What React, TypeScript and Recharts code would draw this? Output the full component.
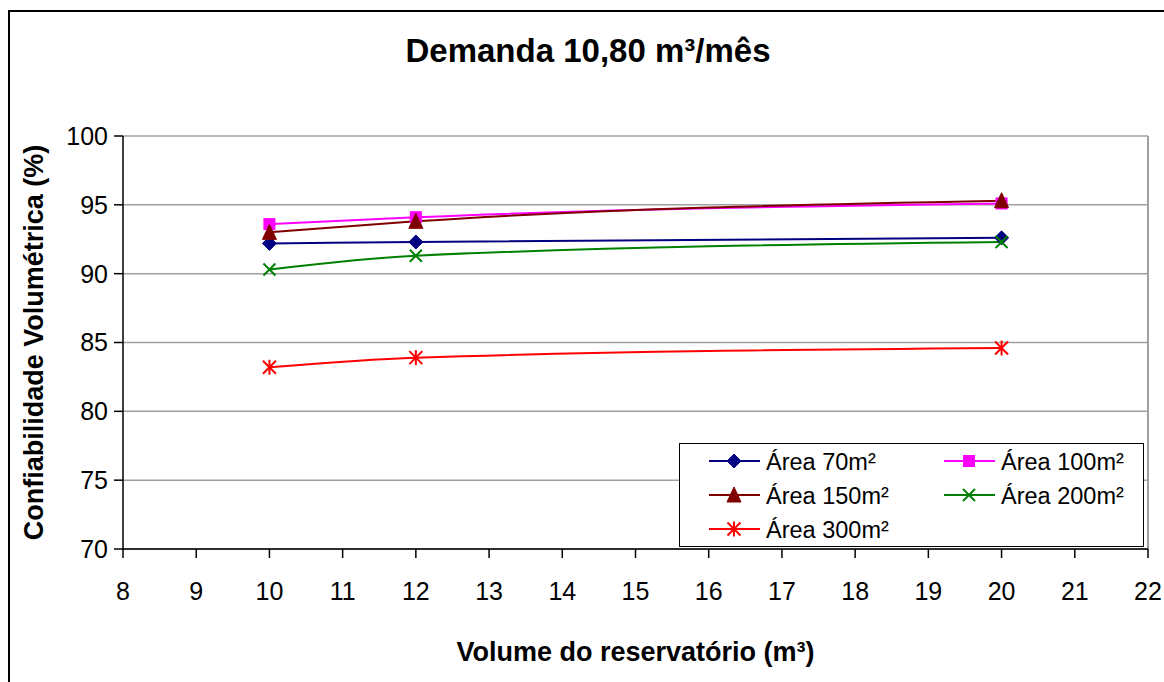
import React from "react";
import { LineChart, Line, XAxis, YAxis, CartesianGrid, Legend, ReferenceLine, Label } from "recharts";

const volumes = [10, 12, 20];
const area70 = [92.2, 92.3, 92.6];
const area100 = [93.6, 94.1, 95.1];
const area150 = [93.0, 93.8, 95.3];
const area200 = [90.3, 91.3, 92.3];
const area300 = [83.2, 83.9, 84.6];
const xTicks = [8, 9, 10, 11, 12, 13, 14, 15, 16, 17, 18, 19, 20, 21, 22];
const yTicks = [70, 75, 80, 85, 90, 95, 100];

const seriesNames = ["Área 70m²", "Área 100m²", "Área 150m²", "Área 200m²", "Área 300m²"];
const seriesKeys = ["a70", "a100", "a150", "a200", "a300"];
const seriesColors = ["#000080", "#FF00FF", "#800000", "#008000", "#FF0000"];
const seriesMarkers = ["diamond", "square", "triangle", "x", "star"];

const data = volumes.map((v, i) => ({
  v,
  a70: area70[i],
  a100: area100[i],
  a150: area150[i],
  a200: area200[i],
  a300: area300[i],
}));

const FONT = "'Liberation Sans', Arial, sans-serif";

function Marker({ kind, cx, cy, color }: { kind: string; cx: number; cy: number; color: string }) {
  if (kind === "diamond") {
    const r = 7;
    return <polygon points={`${cx},${cy - r} ${cx + r},${cy} ${cx},${cy + r} ${cx - r},${cy}`} fill={color} stroke={color} />;
  }
  if (kind === "square") {
    const r = 5.5;
    return <rect x={cx - r} y={cy - r} width={2 * r} height={2 * r} fill={color} stroke={color} />;
  }
  if (kind === "triangle") {
    const r = 7;
    return <polygon points={`${cx},${cy - r - 1} ${cx + r},${cy + r} ${cx - r},${cy + r}`} fill={color} stroke={color} />;
  }
  if (kind === "x") {
    const r = 6;
    return (
      <g stroke={color} strokeWidth={2}>
        <line x1={cx - r} y1={cy - r} x2={cx + r} y2={cy + r} />
        <line x1={cx - r} y1={cy + r} x2={cx + r} y2={cy - r} />
      </g>
    );
  }
  const r = 6.5;
  return (
    <g stroke={color} strokeWidth={2}>
      <line x1={cx - r} y1={cy - r} x2={cx + r} y2={cy + r} />
      <line x1={cx - r} y1={cy + r} x2={cx + r} y2={cy - r} />
      <line x1={cx} y1={cy - r - 1} x2={cx} y2={cy + r + 1} />
    </g>
  );
}

function makeDot(idx: number) {
  return (props: any) => {
    const { cx, cy, index } = props;
    if (cx == null || cy == null) return <g key={`d${idx}-${index}`} />;
    return (
      <g key={`d${idx}-${index}`}>
        <Marker kind={seriesMarkers[idx]} cx={cx} cy={cy} color={seriesColors[idx]} />
      </g>
    );
  };
}

function LegendBox() {
  const pos = [
    [0, 0],
    [1, 0],
    [0, 1],
    [1, 1],
    [0, 2],
  ];
  return (
    <svg width={465} height={104} style={{ display: "block" }}>
      <rect x={0.5} y={0.5} width={464} height={103} fill="#fff" stroke="#000" strokeWidth={1} />
      {seriesNames.map((name, i) => {
        const colX = pos[i][0] === 0 ? 30 : 265;
        const rowY = 18 + pos[i][1] * 34;
        return (
          <g key={name}>
            <line x1={colX} y1={rowY} x2={colX + 51} y2={rowY} stroke={seriesColors[i]} strokeWidth={2} />
            <Marker kind={seriesMarkers[i]} cx={colX + 25} cy={rowY} color={seriesColors[i]} />
            <text x={colX + 57} y={rowY + 8.5} fontSize={23.5} fontFamily={FONT} fill="#000">
              {name}
            </text>
          </g>
        );
      })}
    </svg>
  );
}

export default function App() {
  return (
    <div style={{ position: "absolute", left: 0, top: 0, width: 1164, height: 682, overflow: "hidden", background: "#fff" }}>
      <div
        style={{
          position: "absolute",
          left: 8,
          top: 10,
          width: 1300,
          height: 800,
          borderLeft: "2px solid #000",
          borderTop: "2px solid #000",
        }}
      />
      <div
        style={{
          position: "absolute",
          left: 8,
          width: 1160,
          top: 32,
          textAlign: "center",
          fontFamily: FONT,
          fontWeight: "bold",
          fontSize: 33,
          color: "#000",
        }}
      >
        Demanda 10,80 m³/mês
      </div>
      <div style={{ position: "absolute", left: 0, top: 0 }}>
        <LineChart width={1164} height={682} data={data} margin={{ top: 136, right: 16, bottom: 93, left: 53 }}>
          <CartesianGrid vertical={false} stroke="#a0a0a0" strokeWidth={1.5} />
          <ReferenceLine x={22} stroke="#a0a0a0" strokeWidth={2} />
          <XAxis
            dataKey="v"
            type="number"
            domain={[8, 22]}
            ticks={xTicks}
            interval={0}
            height={40}
            tickSize={9}
            tickMargin={24}
            axisLine={{ stroke: "#000", strokeWidth: 1.5 }}
            tickLine={{ stroke: "#000", strokeWidth: 1.5 }}
            tick={{ fill: "#000", fontSize: 25, fontFamily: FONT }}
          >
            <Label
              value="Volume do reservatório (m³)"
              position="bottom"
              offset={53}
              style={{ fontFamily: FONT, fontWeight: "bold", fontSize: 27, fill: "#000" }}
            />
          </XAxis>
          <YAxis
            type="number"
            domain={[70, 100]}
            ticks={yTicks}
            interval={0}
            width={70}
            tickSize={9}
            tickMargin={6}
            axisLine={{ stroke: "#000", strokeWidth: 1.5 }}
            tickLine={{ stroke: "#000", strokeWidth: 1.5 }}
            tick={{ fill: "#000", fontSize: 25, fontFamily: FONT }}
          >
            <Label
              value="Confiabilidade Volumétrica (%)"
              angle={-90}
              position="left"
              offset={20}
              style={{ textAnchor: "middle", fontFamily: FONT, fontWeight: "bold", fontSize: 27, fill: "#000" }}
            />
          </YAxis>
          <Legend
            layout="vertical"
            align="center"
            verticalAlign="middle"
            wrapperStyle={{ left: 679, top: 443, width: 465, height: 104 }}
            content={() => <LegendBox />}
          />
          {seriesKeys.map((k, i) => (
            <Line
              key={k}
              dataKey={k}
              name={seriesNames[i]}
              type="monotone"
              stroke={seriesColors[i]}
              strokeWidth={2}
              dot={makeDot(i)}
              activeDot={false}
              isAnimationActive={false}
            />
          ))}
        </LineChart>
      </div>
    </div>
  );
}
